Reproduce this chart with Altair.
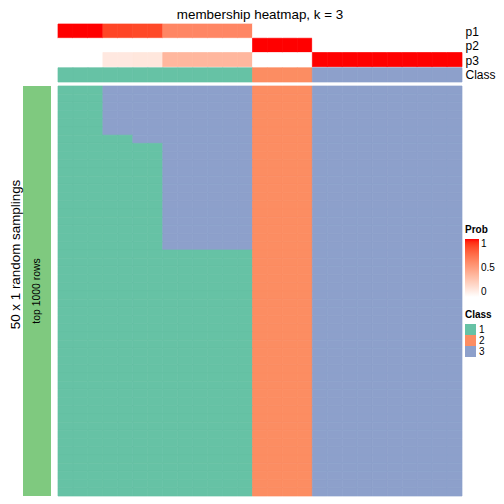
import altair as alt
import pandas as pd

FONT = "Liberation Sans"

# ---------------- data ----------------
n_cols = 27
p1 = [1.0, 1.0, 1.0, 0.88, 0.88, 0.87, 0.87, 0.62, 0.62, 0.62, 0.62, 0.62, 0.62,
      0.0, 0.0, 0.0, 0.0, 0.0, 0.0, 0.0, 0.0, 0.0, 0.0, 0.0, 0.0, 0.0, 0.0]
p2 = [0.0, 0.0, 0.0, 0.0, 0.0, 0.0, 0.0, 0.0, 0.0, 0.0, 0.0, 0.0, 0.0,
      1.0, 1.0, 1.0, 1.0, 0.0, 0.0, 0.0, 0.0, 0.0, 0.0, 0.0, 0.0, 0.0, 0.0]
p3 = [0.0, 0.0, 0.0, 0.12, 0.12, 0.13, 0.13, 0.38, 0.38, 0.38, 0.38, 0.38, 0.38,
      0.0, 0.0, 0.0, 0.0, 1.0, 1.0, 1.0, 1.0, 1.0, 1.0, 1.0, 1.0, 1.0, 1.0]
col_class = ["1", "1", "1", "1", "1", "1", "1", "1", "1", "1", "1", "1", "1",
             "2", "2", "2", "2", "3", "3", "3", "3", "3", "3", "3", "3", "3", "3"]

# 50 random samplings: blocks of identical rows (count, class per column)
block_counts = [6, 1, 13, 30]
block_patterns = [
    "111" "3333333333" "2222" "3333333333",
    "11111" "33333333" "2222" "3333333333",
    "1111111" "333333" "2222" "3333333333",
    "1111111111111" "2222" "3333333333",
]
annot_rows = ["p1", "p2", "p3", "Class"]
class_domain = ["1", "2", "3"]
class_colors = ["#66C2A5", "#FC8D62", "#8DA0CB"]
left_labels = ["top 1000 rows"]
left_color = "#7FC97F"

# ---------------- tables ----------------
prob_records = []
for c in range(n_cols):
    for name, vals in (("p1", p1), ("p2", p2), ("p3", p3)):
        prob_records.append({"col": c, "row": name, "prob": vals[c]})
prob_df = pd.DataFrame(prob_records)

class_df = pd.DataFrame({"col": list(range(n_cols)), "row": ["Class"] * n_cols,
                         "cls": col_class})

main_records = []
r = 0
for cnt, pat in zip(block_counts, block_patterns):
    assert len(pat) == n_cols
    for _ in range(cnt):
        for c, ch in enumerate(pat):
            main_records.append({"col": c, "r": r, "cls": ch})
        r += 1
main_df = pd.DataFrame(main_records)
left_df = pd.DataFrame({"label": left_labels})

# ---------------- scales / legends ----------------
prob_scale = alt.Scale(domain=[0, 1], range=["#FFFFFF", "#FF0000"], interpolate="lab")
class_scale = alt.Scale(domain=class_domain, range=class_colors)

HM_W = 404
MAIN_H = 410
ANNOT_H = 57

prob_legend = alt.Legend(
    title="Prob", orient="none", legendX=442, legendY=200, direction="vertical",
    gradientLength=58, gradientThickness=14, values=[0, 0.5, 1], format=".1~f",
    labelFontSize=10, labelFont=FONT, labelColor="black",
    titleFontSize=10, titleFont=FONT, titleColor="black", titlePadding=4,
    gradientStrokeWidth=0, labelOverlap=False, labelOffset=2,
)
class_legend = alt.Legend(
    title="Class", orient="none", legendX=442, legendY=285,
    symbolType="square", symbolSize=121, symbolStrokeWidth=0, symbolOpacity=1,
    rowPadding=0, labelFontSize=10, labelFont=FONT, labelColor="black",
    titleFontSize=10, titleFont=FONT, titleColor="black", titlePadding=4,
    labelOffset=3,
)

band0 = alt.Scale(paddingInner=0, paddingOuter=0)
x_col = alt.X("col:O", axis=None, scale=band0)
SW = 0.7

# ---------------- annotation ----------------
y_annot = alt.Y(
    "row:N",
    scale=alt.Scale(domain=annot_rows, paddingInner=0, paddingOuter=0),
    axis=alt.Axis(orient="right", title=None, ticks=False, domain=False,
                  labelPadding=3, labelFontSize=12, labelFont=FONT,
                  labelColor="black"),
)
annot_prob = alt.Chart(prob_df).mark_rect(yOffset=-1, strokeWidth=SW).encode(
    x=x_col, y=y_annot,
    color=alt.Color("prob:Q", scale=prob_scale, legend=prob_legend),
    stroke=alt.Stroke("prob:Q", scale=prob_scale, legend=None),
)
annot_class = alt.Chart(class_df).mark_rect(strokeWidth=SW).encode(
    x=x_col, y=y_annot,
    fill=alt.Fill("cls:N", scale=class_scale, legend=class_legend),
    stroke=alt.Stroke("cls:N", scale=class_scale, legend=None),
)
annot = alt.layer(annot_prob, annot_class).resolve_scale(
    stroke="independent"
).properties(
    width=HM_W, height=ANNOT_H,
    title=alt.TitleParams("membership heatmap, k = 3", fontSize=13.4, font=FONT,
                          fontWeight="normal", anchor="middle", frame="group",
                          offset=2, color="black"),
)

# ---------------- main heatmap ----------------
main = alt.Chart(main_df).mark_rect(strokeWidth=SW).encode(
    x=x_col,
    y=alt.Y("r:O", axis=None, scale=band0),
    fill=alt.Fill("cls:N", scale=class_scale, legend=class_legend),
    stroke=alt.Stroke("cls:N", scale=class_scale, legend=None),
).properties(width=HM_W, height=MAIN_H)

# ---------------- left row annotation ----------------
left_x = alt.X("label:N", axis=None, scale=band0)
left_y = alt.Y(
    "label:N", scale=band0,
    axis=alt.Axis(title="50 x 1 random samplings", labels=False, ticks=False,
                  domain=False, titleFont=FONT, titleFontSize=13.4,
                  titleFontWeight="normal", titlePadding=1, titleY=168,
                  minExtent=0, titleColor="black"),
)
left_bar = alt.Chart(left_df).mark_rect(color=left_color).encode(x=left_x, y=left_y)
left_txt = alt.Chart(left_df).mark_text(angle=270, fontSize=10.4, font=FONT,
                                        color="black").encode(
    x=left_x, y=left_y, text="label:N")
left = alt.layer(left_bar, left_txt).properties(width=28, height=MAIN_H)

spacer = alt.Chart(left_df).mark_rect(opacity=0).encode(
    x=alt.X("label:N", axis=None)).properties(width=28, height=ANNOT_H)

chart = alt.concat(
    spacer, annot, left, main, columns=2,
    spacing=alt.RowColnumber(row=2, column=6), align="each",
).resolve_scale(
    x="independent", y="independent", color="shared", fill="shared",
    stroke="independent",
).properties(padding=0, background="white").configure_view(stroke=None)

chart.save("out.html", embed_options={"renderer": "svg", "actions": False})
